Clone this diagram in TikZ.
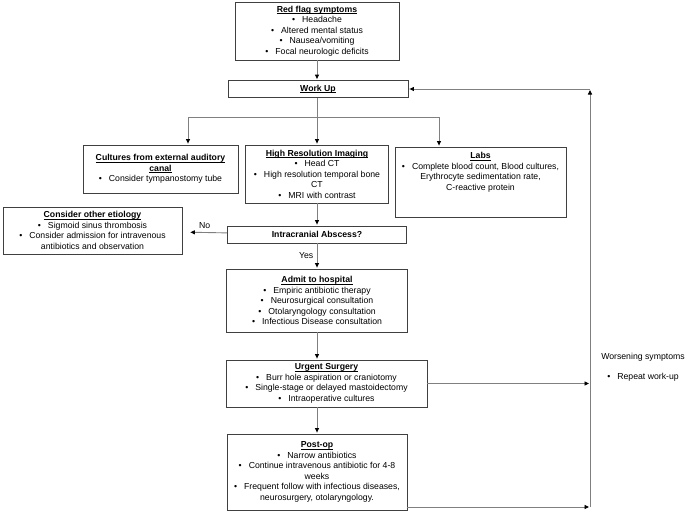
\documentclass[tikz,border=0pt]{standalone}
\usepackage{fontspec}
\setmainfont{Liberation Sans}
\usetikzlibrary{arrows.meta}

\newlength{\hdwidth}
\newcommand{\itm}{\textbullet\hspace{7pt}}
\newcommand{\hd}[1]{\settowidth{\hdwidth}{\textbf{#1}}\rlap{\rule[-1.4pt]{\hdwidth}{0.5pt}}\textbf{#1}}

\begin{document}
\begin{tikzpicture}[x=1pt, y=-1pt,
    box/.style={draw=black!75, line width=0.8pt, align=center, inner sep=2pt,
        font=\fontsize{8.7}{10.5}\selectfont},
    conn/.style={draw=black!50, line width=0.9pt},
    link/.style={conn, shorten >=1pt, -{Triangle[length=4.5pt, width=4pt, color=black]}},
    lbl/.style={font=\fontsize{8.7}{10.5}\selectfont, align=center}]
        \useasboundingbox (0,0) rectangle (688,527);

        % main column
        \node[box, minimum width=164, minimum height=58] (redflag) at (317,31)
            {\hd{Red flag symptoms}\\ \itm Headache\\ \itm Altered mental status\\
             \itm Nausea/vomiting\\ \itm Focal neurologic deficits};
        \node[box, minimum width=180, minimum height=17] (workup) at (318,89) {\hd{Work Up}};

        % work-up branches
        \node[box, minimum width=155, minimum height=48] (cultures) at (160.5,169)
            {\hd{Cultures from external auditory}\\ \hd{canal}\\ \itm Consider tympanostomy tube};
        \node[box, minimum width=143, minimum height=58] (imaging) at (317,174)
            {\hd{High Resolution Imaging}\\ \itm Head CT\\ \itm High resolution temporal bone\\ CT\\
             \itm MRI with contrast};
        \node[box, minimum width=171, minimum height=70] (labs) at (480.5,182)
            {\hd{Labs}\\ \itm Complete blood count, Blood cultures,\\ Erythrocyte sedimentation rate,\\
             C-reactive protein\\ \mbox{}\\ \mbox{}};

        % decision
        \node[box, minimum width=179, minimum height=17] (abscess) at (317,234.5) {\textbf{Intracranial Abscess?}};
        \node[box, minimum width=179, minimum height=47] (other) at (92.5,230.5)
            {\hd{Consider other etiology}\\ \itm Sigmoid sinus thrombosis\\
             \itm Consider admission for intravenous\\ antibiotics and observation};

        % treatment
        \node[box, minimum width=181, minimum height=63] (admit) at (317,300.5)
            {\hd{Admit to hospital}\\ \itm Empiric antibiotic therapy\\ \itm Neurosurgical consultation\\
             \itm Otolaryngology consultation\\ \itm Infectious Disease consultation};
        \node[box, minimum width=201, minimum height=47] (surgery) at (326.5,383.5)
            {\hd{Urgent Surgery}\\ \itm Burr hole aspiration or craniotomy\\
             \itm Single-stage or delayed mastoidectomy\\ \itm Intraoperative cultures};
        \node[box, minimum width=180, minimum height=76] (postop) at (317,472)
            {\hd{Post-op}\\ \itm Narrow antibiotics\\ \itm Continue intravenous antibiotic for 4-8\\ weeks\\
             \itm Frequent follow with infectious diseases,\\ neurosurgery, otolaryngology.};

        % worsening loop
        \node[lbl] (worse) at (643,367) {Worsening symptoms\\[9pt] \itm Repeat work-up};
        \coordinate (looptop) at (590,89);
        \coordinate (loopbottom) at (590,507);

        % connectors
        \draw[link] (redflag) -- (workup.north -| redflag);
        \coordinate (branch) at (317,117);
        \coordinate (bl) at (188,117);
        \coordinate (br) at (439,117);
        \draw[conn] (workup.south -| branch) -- (branch);
        \draw[conn] (bl) -- (br);
        \draw[link] (bl) -- (bl |- cultures.north);
        \draw[link] (branch) -- (imaging.north);
        \draw[link] (br) -- (br |- labs.north);
        \draw[link] (imaging) -- (abscess);
        \draw[link, shorten >=8pt] (abscess) -- node[lbl, above] {No} (other);
        \draw[link] (abscess) -- node[lbl, left] {Yes} (admit);
        \draw[link] (admit) -- (admit |- surgery.north);
        \draw[link] (surgery.south -| postop) -- (postop);
        \draw[link] (surgery.east) -- (surgery.east -| looptop);
        \draw[link] (postop.east |- loopbottom) -- (loopbottom);
        \draw[link] (loopbottom) -- (looptop);
        \draw[link] (looptop) -- (workup.east);
    \end{tikzpicture}
\end{document}
